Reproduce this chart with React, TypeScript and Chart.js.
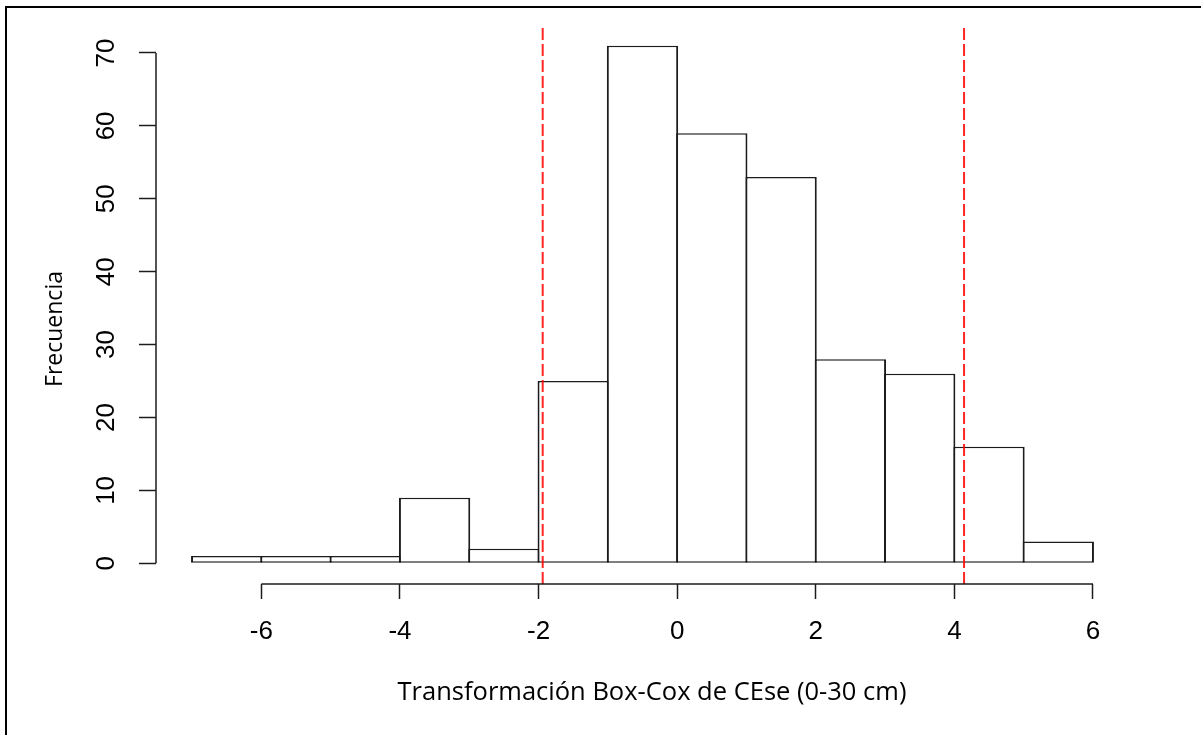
import React, { useEffect, useRef } from "react";
import { Chart, registerables } from "chart.js";

Chart.register(...registerables);

// ---- Data ----
const binStarts = [-7, -6, -5, -4, -3, -2, -1, 0, 1, 2, 3, 4, 5];
const frequencies = [1, 1, 1, 9, 2, 25, 71, 59, 53, 28, 26, 16, 3];
const binWidth = 1;
const referenceLines = [-1.94, 4.14];
const xTickValues = [-6, -4, -2, 0, 2, 4, 6];
const yTickValues = [0, 10, 20, 30, 40, 50, 60, 70];
const xAxisTitle = "Transformación Box-Cox de CEse (0-30 cm)";
const yAxisTitle = "Frecuencia";

// R-style plot region: data range extended by 4% on each side
const xLo = binStarts[0];
const xHi = binStarts[binStarts.length - 1] + binWidth;
const X_MIN = xLo - 0.04 * (xHi - xLo);
const X_MAX = xHi + 0.04 * (xHi - xLo);
const yHi = Math.max(...frequencies);
const Y_MIN = -0.04 * yHi;
const Y_MAX = yHi * 1.04;

const INK = "#1c1c1c";

const rAxesPlugin = {
  id: "rAxes",
  afterDraw(chart: any) {
    const { ctx, chartArea, scales } = chart;
    const x = scales.x;
    const y = scales.y;
    ctx.save();
    // R-style axis lines spanning only the tick range
    ctx.strokeStyle = INK;
    ctx.lineWidth = 1.5;
    ctx.beginPath();
    ctx.moveTo(x.getPixelForValue(xTickValues[0]), chartArea.bottom);
    ctx.lineTo(x.getPixelForValue(xTickValues[xTickValues.length - 1]), chartArea.bottom);
    ctx.moveTo(chartArea.left, y.getPixelForValue(yTickValues[0]));
    ctx.lineTo(chartArea.left, y.getPixelForValue(yTickValues[yTickValues.length - 1]));
    ctx.stroke();

    // Axis titles
    ctx.fillStyle = "#000";
    ctx.textAlign = "center";
    ctx.textBaseline = "alphabetic";
    ctx.font = '25.5px "Open Sans"';
    ctx.fillText(xAxisTitle, 652, 700);
    ctx.save();
    ctx.translate(62, 329);
    ctx.rotate(-Math.PI / 2);
    ctx.font = '23px "Open Sans"';
    ctx.fillText(yAxisTitle, 0, 0);
    ctx.restore();

    // Outer frame (left and top edges visible)
    ctx.strokeStyle = "#000";
    ctx.lineWidth = 2;
    ctx.beginPath();
    ctx.moveTo(6, 735);
    ctx.lineTo(6, 7);
    ctx.lineTo(1201, 7);
    ctx.stroke();
    ctx.restore();
  },
};

export default function App() {
  const canvasRef = useRef<HTMLCanvasElement | null>(null);

  useEffect(() => {
    const canvas = canvasRef.current;
    if (!canvas) return;
    const tickFont = { family: "'Liberation Sans', Arial, sans-serif", size: 26 };
    const chart = new Chart(canvas, {
      type: "bar",
      data: {
        datasets: [
          {
            type: "bar",
            label: yAxisTitle,
            data: binStarts.map((s, i) => ({ x: s + binWidth / 2, y: frequencies[i] })),
            backgroundColor: "#ffffff",
            borderColor: INK,
            borderWidth: { left: 2, right: 2, top: 1.5, bottom: 1.5 },
            borderSkipped: false,
            barPercentage: 1,
            categoryPercentage: 1.029,
            inflateAmount: 0,
            order: 2,
          } as any,
          ...referenceLines.map((v) => ({
            type: "line" as const,
            label: "ref " + v,
            data: [
              { x: v, y: Y_MIN },
              { x: v, y: Y_MAX },
            ],
            borderColor: "rgba(255,0,0,0.85)",
            borderWidth: 2,
            borderDash: [12, 4],
            pointRadius: 0,
            fill: false,
            order: 1,
          })),
        ],
      },
      options: {
        animation: false,
        responsive: false,
        layout: { padding: { top: 25, right: 72, bottom: 0, left: 0 } },
        plugins: {
          legend: { display: false },
          tooltip: { enabled: false },
          title: { display: false },
        },
        scales: {
          x: {
            type: "linear",
            min: X_MIN,
            max: X_MAX,
            offset: false,
            afterBuildTicks: (s: any) => {
              s.ticks = xTickValues.map((v) => ({ value: v }));
            },
            afterFit: (s: any) => {
              s.height = 151;
              s.paddingLeft = 0;
              s.paddingRight = 0;
              s.paddingTop = 0;
              s.paddingBottom = 0;
            },
            grid: {
              drawOnChartArea: false,
              drawTicks: true,
              tickLength: 15,
              tickWidth: 1.5,
              tickColor: INK,
              offset: false,
            },
            border: { display: false },
            ticks: {
              font: tickFont,
              color: "#000",
              padding: 17,
              maxRotation: 0,
              autoSkip: false,
            },
          },
          y: {
            type: "linear",
            min: Y_MIN,
            max: Y_MAX,
            afterBuildTicks: (s: any) => {
              s.ticks = yTickValues.map((v) => ({ value: v }));
            },
            afterFit: (s: any) => {
              s.width = 156;
              s.paddingLeft = 0;
              s.paddingRight = 0;
              s.paddingTop = 0;
              s.paddingBottom = 0;
            },
            grid: {
              drawOnChartArea: false,
              drawTicks: true,
              tickLength: 17,
              tickWidth: 1.5,
              tickColor: INK,
            },
            border: { display: false },
            ticks: {
              font: tickFont,
              color: "#000",
              padding: 18,
              minRotation: 90,
              maxRotation: 90,
              crossAlign: "center",
              autoSkip: false,
            },
          },
        },
      } as any,
      plugins: [rAxesPlugin],
    });
    return () => chart.destroy();
  }, []);

  return (
    <div style={{ position: "absolute", left: 0, top: 0, width: 1201, height: 735, background: "#fff" }}>
      <canvas ref={canvasRef} width={1201} height={735} style={{ display: "block" }} />
    </div>
  );
}
